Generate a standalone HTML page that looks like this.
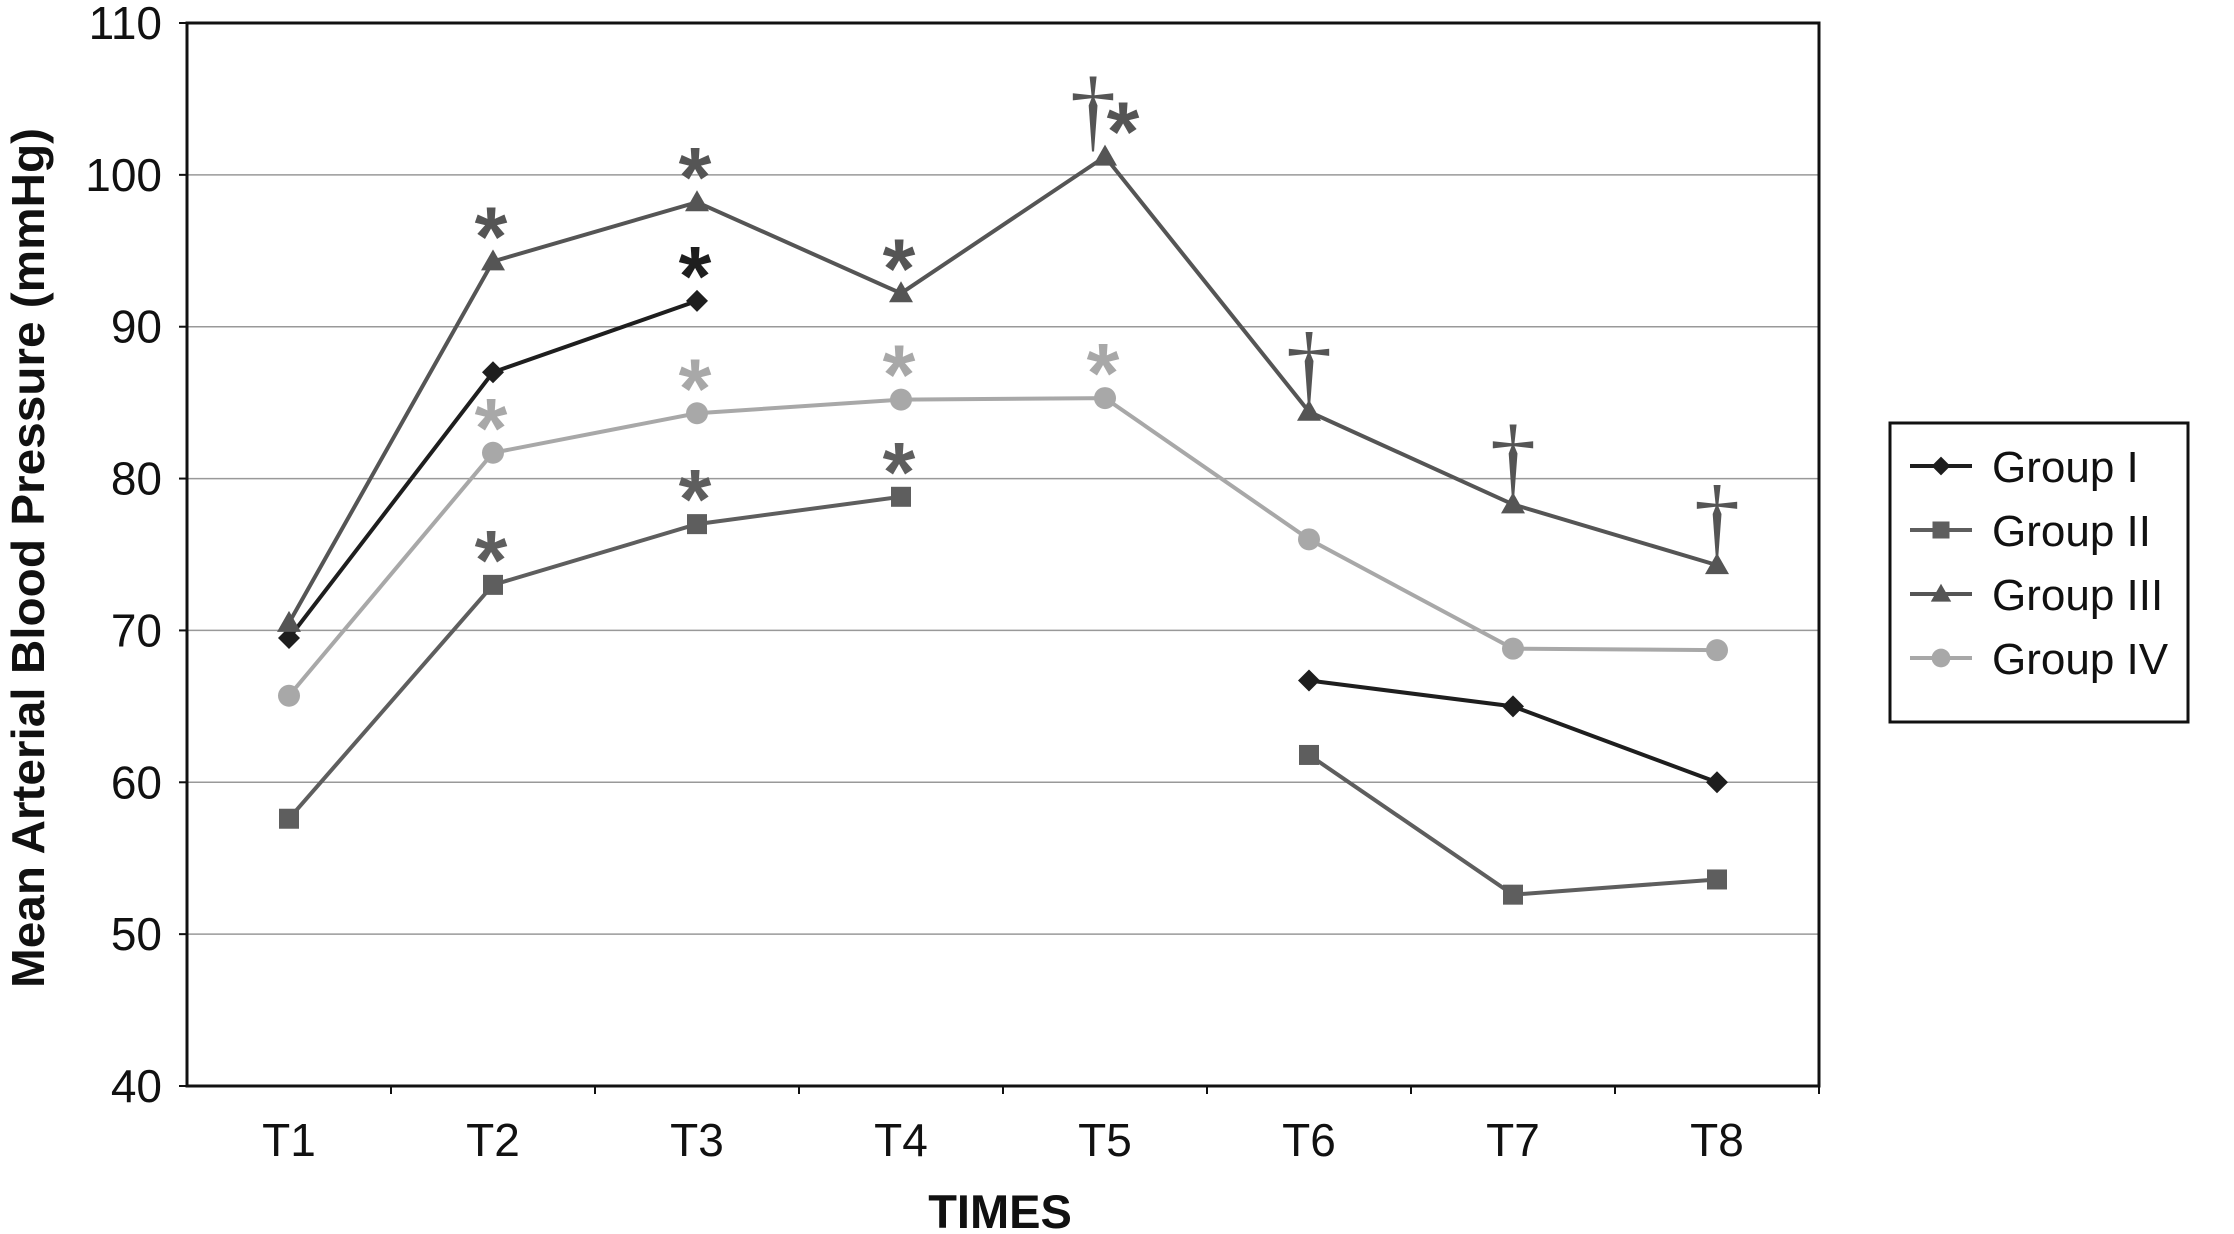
<!DOCTYPE html>
<html><head><meta charset="utf-8"><style>
html,body{margin:0;padding:0;background:#fff}
svg{display:block;font-family:"Liberation Sans",Arial,sans-serif}
</style></head><body>
<svg id="chart" width="2234" height="1234" viewBox="0 0 2234 1234" xmlns="http://www.w3.org/2000/svg">
<g id="grid"></g>
<g id="yticks"></g>
<g id="xticks"></g>
<g id="series"></g>
<g id="annots"></g>
<rect x="187" y="23" width="1632" height="1063" fill="none" stroke="#111" stroke-width="3"/>
<text transform="translate(44,558) rotate(-90)" text-anchor="middle" font-size="46" font-weight="bold" fill="#111" textLength="860" lengthAdjust="spacingAndGlyphs">Mean Arterial Blood Pressure (mmHg)</text>
<text x="1000" y="1228" text-anchor="middle" font-size="47" font-weight="bold" fill="#111">TIMES</text>
<g id="legend">
<rect x="1890" y="423" width="298" height="299" fill="#fff" stroke="#111" stroke-width="3"/>
</g>
</svg>
<script>
const categories = ["T1","T2","T3","T4","T5","T6","T7","T8"];
const yTicks = [40,50,60,70,80,90,100,110];
const seriesNames = ["Group I","Group II","Group III","Group IV"];
const group1 = [69.5, 87.0, 91.7, null, null, 66.7, 65.0, 60.0];
const group2 = [57.6, 73.0, 77.0, 78.8, null, 61.8, 52.6, 53.6];
const group3 = [70.5, 94.3, 98.2, 92.2, 101.2, 84.4, 78.3, 74.3];
const group4 = [65.7, 81.7, 84.3, 85.2, 85.3, 76.0, 68.8, 68.7];
const starG1 = [0,0,1,0,0,0,0,0];
const starG2 = [0,1,1,1,0,0,0,0];
const starG3 = [0,1,1,1,1,0,0,0];
const starG4 = [0,1,1,1,1,0,0,0];
const daggerG3 = [0,0,0,0,1,1,1,1];

const NS="http://www.w3.org/2000/svg";
const L=187,R=1819,T=23,B=1086,yMin=40,yMax=110;
const bw=(R-L)/categories.length;
const xS=i=>L+bw*(i+0.5);
const yS=v=>B-(v-yMin)/(yMax-yMin)*(B-T);
function mk(tag,attrs,parent){const e=document.createElementNS(NS,tag);for(const k in attrs)e.setAttribute(k,attrs[k]);parent.appendChild(e);return e;}
const grid=document.getElementById('grid'),yt=document.getElementById('yticks'),xt=document.getElementById('xticks'),ser=document.getElementById('series'),an=document.getElementById('annots'),leg=document.getElementById('legend');
yTicks.forEach(v=>{
  if(v>yMin&&v<yMax){const g=mk('line',{x1:L,x2:R,y1:yS(v),y2:yS(v),stroke:'#999','stroke-width':1.5},grid);
  
  }
  const tk=mk('line',{x1:L-8,x2:L,y1:yS(v),y2:yS(v),stroke:'#111','stroke-width':2},yt);
  
  
  const t=mk('text',{x:162,y:yS(v)+16,'text-anchor':'end','font-size':46,fill:'#111'},yt);
  t.textContent=v;
  
  
});
categories.forEach((c,i)=>{
  const tk=mk('line',{x1:L+bw*(i+1),x2:L+bw*(i+1),y1:B,y2:B+8,stroke:'#111','stroke-width':2},xt);
  
  
  const t=mk('text',{x:xS(i),y:1156,'text-anchor':'middle','font-size':46,fill:'#111'},xt);
  t.textContent=c;
  
  
});
const all=[group1,group2,group3,group4];
const colors=['#1e1e1e','#5e5e5e','#555555','#a8a8a8'];
const shapes=['diamond','square','triangle','circle'];
function marker(shape,x,y,col,parent,s){
  s=s||1;let e;
  if(shape==='diamond')e=mk('polygon',{points:`${x},${y-11*s} ${x+11*s},${y} ${x},${y+11*s} ${x-11*s},${y}`,fill:col},parent);
  else if(shape==='square')e=mk('rect',{x:x-10*s,y:y-10*s,width:20*s,height:20*s,fill:col},parent);
  else if(shape==='triangle')e=mk('polygon',{points:`${x},${y-12*s} ${x+12*s},${y+9*s} ${x-12*s},${y+9*s}`,fill:col},parent);
  else e=mk('circle',{cx:x,cy:y,r:11*s,fill:col},parent);
  return e;
}
all.forEach((d,si)=>{
  let segs=[],cur=[];
  d.forEach((v,i)=>{if(v==null){if(cur.length)segs.push(cur);cur=[];}else cur.push([xS(i),yS(v)]);});
  if(cur.length)segs.push(cur);
  segs.forEach(s=>{
    const p=mk('polyline',{points:s.map(q=>q.join(',')).join(' '),fill:'none',stroke:colors[si],'stroke-width':4},ser);
    
    
  });
  d.forEach((v,i)=>{if(v==null)return;
    const m=marker(shapes[si],xS(i),yS(v),colors[si],ser);
    
    
  });
});
const stars=[starG1,starG2,starG3,starG4];
stars.forEach((st,si)=>{
  st.forEach((f,i)=>{if(!f||all[si][i]==null)return;
    const dx=(si===2&&daggerG3[i])?18:-2;
    const t=mk('text',{x:xS(i)+dx,y:yS(all[si][i])+4,'text-anchor':'middle','font-size':84,'font-weight':'bold',fill:colors[si]},an);
    t.textContent='*';
    
    
  });
});
daggerG3.forEach((f,i)=>{if(!f)return;
  const dx=i===4?-12:0;
  const t=mk('text',{x:xS(i)+dx,y:yS(group3[i])-16,'text-anchor':'middle','font-size':92,fill:colors[2],'font-family':'Liberation Serif, serif'},an);
  t.textContent='†';
  
  
});
seriesNames.forEach((n,si)=>{
  const y=466+si*64;
  const g=mk('g',{},leg);
  
  
  mk('line',{x1:1910,x2:1972,y1:y,y2:y,stroke:colors[si],'stroke-width':4},g);
  marker(shapes[si],1941,y,colors[si],g,0.85);
  const t=mk('text',{x:1992,y:y+16,'font-size':44,fill:'#111'},g);
  t.textContent=n;
});
</script>
</body></html>
